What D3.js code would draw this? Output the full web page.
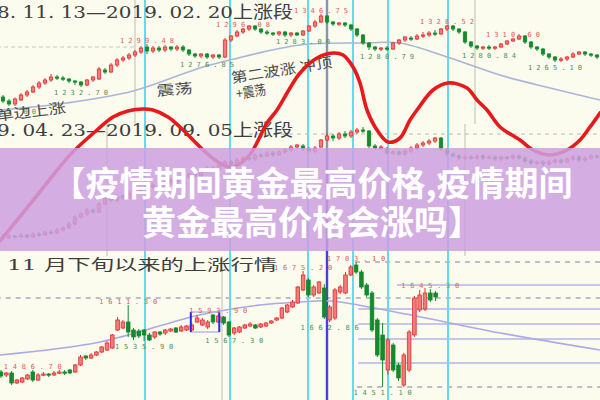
<!DOCTYPE html>
<html><head><meta charset="utf-8">
<script src="https://cdn.jsdelivr.net/npm/d3@7"></script>
<style>html,body{margin:0;padding:0;background:#fbfbee;}svg{display:block;}</style>
</head><body><svg id="c" width="600" height="400"></svg>
<script>
// ---------- DATA ----------
const headers = ["2018. 11. 13\u20142019. 02. 20上涨段", "2019. 04. 23\u20142019. 09. 05上涨段", "11 月下旬以来的上涨行情"];
const titleLines = ["【疫情期间黄金最高价格,疫情期间", "黄金最高价格会涨吗】"];
const notes = ["单边上涨", "震荡", "第二波涨  冲顶", "+震荡"];

// candles: [open, close, high, low]
const topCandles = [
[1176,1168,1180,1164],[1168,1162,1172,1158],[1162,1172,1175,1158],[1170,1180,1184,1168],[1180,1186,1190,1176],
[1186,1196,1200,1184],[1196,1204,1208,1192],[1204,1210,1214,1200],[1210,1216,1222,1206],[1216,1214,1220,1210],
[1214,1212,1218,1208],[1212,1208,1214,1204],[1208,1206,1210,1200],[1206,1200,1208,1196],[1200,1210,1212,1198],
[1210,1216,1218,1206],[1212,1232,1236,1210],[1230,1226,1234,1222],[1226,1240,1244,1224],[1240,1250,1254,1236],
[1250,1254,1258,1246],[1254,1260,1264,1250],[1260,1266,1270,1256],[1266,1274,1278,1262],[1276,1268,1282,1262],
[1268,1274,1278,1264],[1274,1270,1278,1266],[1270,1276,1280,1266],[1276,1272,1278,1268],[1272,1276,1280,1268],
[1276,1270,1280,1266],[1270,1262,1272,1258],[1262,1258,1264,1254],[1258,1262,1264,1254],[1262,1256,1264,1252],
[1256,1260,1262,1252],[1260,1256,1262,1252],[1256,1290,1294,1254],[1290,1298,1300,1286],[1298,1306,1310,1296],
[1306,1312,1314,1302],[1312,1318,1320,1308],[1318,1312,1320,1308],[1312,1306,1314,1302],[1306,1304,1310,1300],
[1304,1302,1306,1298],[1302,1306,1308,1298],[1306,1300,1308,1296],[1300,1304,1306,1296],[1304,1300,1306,1298],
[1300,1308,1310,1298],[1308,1318,1320,1306],[1318,1326,1330,1314],[1326,1338,1342,1324],[1338,1326,1340,1322],
[1326,1322,1328,1318],[1322,1324,1326,1318],[1324,1320,1326,1316],[1320,1312,1322,1308],[1312,1300,1314,1296],
[1300,1284,1302,1280],[1284,1276,1286,1270],[1276,1272,1278,1268],[1272,1274,1276,1268],[1274,1272,1278,1268],
[1272,1284,1286,1270],[1284,1290,1292,1280],[1290,1296,1298,1286],[1294,1292,1298,1288],[1292,1298,1302,1290],
[1298,1300,1306,1294],[1300,1304,1308,1296],[1304,1302,1310,1298],[1302,1312,1314,1300],[1312,1318,1320,1308],
[1318,1312,1320,1308],[1312,1306,1314,1302],[1306,1286,1308,1282],[1286,1278,1288,1274],[1278,1274,1280,1270],
[1274,1276,1278,1270],[1276,1274,1280,1270],[1274,1276,1278,1270],[1276,1282,1284,1274],[1282,1288,1290,1280],
[1288,1292,1294,1286],[1292,1298,1302,1290],[1298,1286,1300,1282],[1286,1276,1288,1272],[1276,1272,1278,1268],
[1272,1262,1274,1258],[1262,1256,1264,1252],[1256,1250,1258,1246],[1250,1252,1256,1246],[1252,1256,1258,1248],
[1256,1262,1266,1254],[1262,1266,1268,1260],[1266,1262,1268,1258],[1262,1260,1264,1256],[1260,1256,1262,1252]
];
const midCandles = [
[1328,1324,1332,1320],[1324,1328,1332,1322],[1328,1326,1330,1322],[1326,1330,1334,1324],[1330,1326,1332,1322],
[1326,1332,1336,1324],[1332,1330,1336,1326],[1330,1336,1338,1328],[1336,1334,1340,1330],[1334,1340,1344,1332],
[1340,1344,1348,1336],[1344,1352,1356,1342],[1352,1366,1370,1350],[1366,1372,1376,1362],[1372,1380,1384,1368],
[1380,1376,1384,1372],[1376,1392,1396,1374],[1392,1406,1410,1390],[1406,1400,1410,1396],[1400,1408,1412,1396],
[1408,1404,1412,1400],[1404,1414,1418,1402],[1414,1420,1424,1410],[1420,1416,1424,1412],[1416,1426,1430,1414],
[1426,1430,1434,1422],[1430,1424,1434,1420],[1424,1434,1438,1422],[1434,1440,1444,1430],[1440,1436,1444,1432],
[1436,1446,1450,1434],[1446,1452,1456,1442],[1452,1448,1456,1444],[1448,1458,1462,1446],[1458,1464,1468,1454],
[1464,1460,1468,1456],[1460,1470,1474,1458],[1470,1476,1480,1466],[1476,1472,1480,1468],[1472,1480,1484,1470],
[1480,1484,1488,1476],[1484,1482,1488,1478],[1482,1490,1494,1478],[1490,1488,1494,1484],[1488,1494,1498,1486],
[1494,1490,1498,1486],[1490,1496,1500,1488],[1496,1500,1504,1492],[1500,1506,1510,1496],[1506,1510,1512,1502],
[1508,1502,1512,1498],[1502,1498,1506,1494],[1498,1504,1508,1494],[1506,1520,1522,1504],[1520,1528,1534,1518],
[1528,1524,1532,1518],[1524,1532,1536,1520],[1532,1528,1538,1524],[1528,1536,1540,1524],[1536,1540,1544,1532],
[1540,1538,1546,1534],[1538,1508,1540,1504],[1508,1504,1512,1500],[1504,1506,1510,1500],[1502,1494,1506,1490],
[1494,1496,1500,1490],[1496,1492,1500,1488],[1492,1498,1502,1488],[1498,1504,1508,1494],[1504,1510,1514,1500],
[1510,1514,1518,1506],[1514,1518,1522,1510],[1518,1524,1526,1514],[1524,1502,1526,1498],[1500,1492,1504,1488],
[1492,1488,1496,1484],[1488,1484,1492,1480],[1484,1486,1490,1480],[1486,1484,1490,1480],[1484,1488,1492,1480],
[1488,1484,1492,1480],[1484,1486,1490,1482],[1486,1482,1490,1478],[1482,1486,1490,1478],[1486,1484,1488,1480],
[1484,1488,1492,1480],[1488,1484,1492,1480],[1484,1478,1488,1474],[1478,1474,1482,1470],[1474,1476,1480,1470],
[1476,1472,1480,1468],[1472,1476,1480,1468],[1476,1480,1484,1472],[1480,1476,1484,1472],[1476,1482,1486,1474],
[1482,1486,1490,1478],[1486,1480,1490,1476],[1480,1484,1488,1476],[1484,1488,1492,1480],[1488,1486,1492,1482]
];
const botCandles = [
[1484,1476,1488,1472],[1478,1482,1484,1474],[1482,1462,1486,1458],[1462,1468,1470,1460],[1464,1472,1474,1462],
[1470,1478,1480,1468],[1484,1468,1488,1464],[1468,1478,1482,1466],[1478,1480,1484,1476],[1480,1478,1482,1474],
[1478,1482,1486,1476],[1482,1484,1488,1480],[1484,1482,1488,1478],[1488,1482,1490,1480],[1484,1498,1500,1482],
[1498,1514,1518,1496],[1516,1512,1518,1508],[1512,1518,1522,1510],[1518,1524,1526,1516],[1524,1534,1536,1522],
[1528,1542,1546,1526],[1532,1558,1560,1530],[1568,1588,1594,1566],[1572,1584,1588,1570],[1584,1564,1618,1554],
[1568,1554,1572,1548],[1566,1556,1570,1552],[1568,1558,1570,1546],[1558,1548,1562,1546],[1554,1564,1566,1550],
[1564,1560,1566,1556],[1562,1568,1570,1558],[1566,1570,1572,1564],[1572,1564,1574,1562],[1566,1574,1578,1564],
[1568,1576,1578,1566],[1568,1578,1582,1566],[1584,1592,1598,1582],[1578,1588,1592,1576],[1574,1584,1588,1570],
[1598,1584,1600,1580],[1584,1596,1600,1582],[1594,1582,1596,1578],[1584,1558,1586,1554],[1562,1572,1574,1558],
[1564,1574,1576,1562],[1572,1578,1580,1570],[1576,1580,1584,1574],[1578,1572,1580,1570],[1574,1580,1582,1572],
[1576,1582,1584,1574],[1582,1586,1588,1580],[1588,1592,1594,1586],[1592,1612,1614,1590],[1604,1618,1620,1602],
[1614,1624,1628,1612],[1622,1654,1656,1620],[1648,1678,1686,1646],[1668,1638,1672,1634],[1638,1654,1658,1634],
[1642,1664,1666,1640],[1652,1594,1660,1590],[1588,1614,1618,1584],[1592,1648,1652,1588],[1644,1654,1658,1640],
[1642,1678,1684,1640],[1678,1694,1698,1676],[1698,1684,1704,1680],[1684,1654,1688,1650],[1658,1638,1662,1634],
[1642,1568,1646,1564],[1588,1518,1592,1514],[1558,1508,1582,1454],[1488,1548,1552,1478],[1538,1488,1542,1484],
[1498,1472,1502,1466],[1458,1518,1522,1454],[1488,1564,1568,1484],[1558,1632,1636,1554],[1608,1638,1648,1604],
[1610,1642,1652,1606],[1642,1628,1650,1624],[1642,1634,1646,1626]
];

// price labels: [candle index, text, side]
const topLabels = [[1,"1191.00","below"],[13,"1232.70","below"],[24,"1299.48","above"],[34,"1276.85","below"],
  [40,"1296.08","above"],[50,"1283.00","below"],[53,"1346.75","above"],[64,"1280.79","below"],
  [74,"1328.52","above"],[81,"1280.84","below"],[85,"1310.60","above"],[92,"1265.10","below"]];
const botLabels = [[6,"1486.70","above"],[24,"1611.30","above"],[27,"1535.90","below"],[41,"1593.90","above"],
  [44,"1567.30","below"],[57,"1675.20","above"],[62,"1662.86","below"],[67,"1703.10","above"],
  [72,"1451.10","below"],[81,"1645.30","above"]];

// moving averages (candle index, price)
const topMAIdx = [-0.5,10.7,21.7,32.8,37.8,49.5,60.7,66.2,74.5,82.8,91.2,99.5];
const topMAVal = [1150,1164,1188,1234,1250,1280,1284,1284,1254,1220,1194,1170];
const botMAIdx = [-0.2,18.7,37.5,48.9,56.4,62.1,75.3,94.2,113];
const botMAVal = [1518,1544,1598,1618,1624,1626,1602,1562,1528];

// cycle wave (day, strength)
const waveDay = [0,17.5,35,48.5,56.5,64,71.5,76.5,84,90,100,107.5,115,124,133.5,138.5,145,150,158.5,166.5,171.5,
  176.5,180,183.5,188.5,194,200,205,208.5,216.5,224,233.5,238.5,243.5,250,260,266.5,275,283.5,290,295,300];
const waveVal = [-91,-48,-5,20,33,39,41,40,33,23,3,-10,-17,-7,27,40,62,77,92,97,95,83,67,40,20,8,12,30,40,60,67,62,
  50,40,23,10,0,-5,0,10,23,37];

// marker days (vertical lines)
const cyanDays = [72.5,115,154,176.5,194,224];
const pivotDay = 163.5;
const greyDaysTop = [67.5,237.5], greyDaysMid = [53.5,232.5], greyDaysBot = [111];

// horizontal levels: [price, from candle index]
const topDashed = [[1276,-1,22]];
const midDashed = [[1532,41]];
const botDashed = [[1704,66.8],[1632,-1],[1454,67.2]];
const botSolid = [[1658,74.7],[1610,67.4],[1580,67.4],[1550,67.4],[1502,67.4]];
const botBox = [36,41,1564,1604];

// ---------- DRAW ----------
const W = 600, H = 400;
const svg = d3.select("#c");
svg.append("rect").attr("width",W).attr("height",H).attr("fill","#fbfbee");

const day = d3.scaleLinear().domain([0,300]).range([0,600]);
const xTop = d3.scaleLinear().domain([0,99]).range([3,597]);
const yTop = d3.scaleLinear().domain([1150,1350]).range([110,10]);
const xMid = d3.scaleLinear().domain([0,99]).range([3,597]);
const yMid = d3.scaleLinear().domain([1300,1600]).range([250,100]);
const xBot = d3.scaleLinear().domain([0,82]).range([1,435.6]);
const yBot = d3.scaleLinear().domain([1440,1720]).range([394,254]);
const waveY = d3.scaleLinear().domain([-100,100]).range([250,50]);

const gLines = svg.append("g");
const vline = (g, d, y0, y1, col, w) => g.append("line").attr("x1",day(d)).attr("x2",day(d)).attr("y1",y0).attr("y2",y1).attr("stroke",col).attr("stroke-width",w);
greyDaysTop.forEach(d => vline(gLines,d,0,124,"#c9c9c0",1.2));
greyDaysMid.forEach(d => vline(gLines,d,124,256,"#c9c9c0",1.2));
greyDaysBot.forEach(d => vline(gLines,d,256,400,"#c9c9c0",1.2));

topDashed.forEach(([p,a,b]) => gLines.append("line").attr("x1",xTop(a)).attr("x2",xTop(b)).attr("y1",yTop(p)).attr("y2",yTop(p))
  .attr("stroke","#c8c8c8").attr("stroke-width",1).attr("stroke-dasharray","4,3"));
midDashed.forEach(([p,a]) => gLines.append("line").attr("x1",xMid(a)).attr("x2",W).attr("y1",yMid(p)).attr("y2",yMid(p))
  .attr("stroke","#b8b8c8").attr("stroke-width",1).attr("stroke-dasharray","4,4"));
botDashed.forEach(([p,a]) => gLines.append("line").attr("x1",xBot(a)).attr("x2",W).attr("y1",yBot(p)).attr("y2",yBot(p))
  .attr("stroke","#a9a9c4").attr("stroke-width",1.3).attr("stroke-dasharray","5,5"));
botSolid.forEach(([p,a]) => gLines.append("line").attr("x1",xBot(a)).attr("x2",W).attr("y1",yBot(p)).attr("y2",yBot(p))
  .attr("stroke","#b4b4ea").attr("stroke-width",1.6));

cyanDays.forEach(d => vline(gLines,d,0,H,"#5fdcef",2));
vline(gLines,pivotDay,0,148,"#8696b2",2.4);
vline(gLines,pivotDay,148,H,"#4343d6",2.4);

const maLine = (xs, ys, x, y, col, w) => svg.append("path")
  .datum(xs.map((v,i)=>[v,ys[i]]))
  .attr("d", d3.line().x(d=>x(d[0])).y(d=>y(d[1])).curve(d3.curveCatmullRom))
  .attr("fill","none").attr("stroke",col).attr("stroke-width",w);
maLine(topMAIdx, topMAVal, xTop, yTop, "#a9b6d6", 1.6);
maLine(botMAIdx, botMAVal, xBot, yBot, "#aaaae6", 1.6);

function candles(data, x, y, bw) {
  const g = svg.append("g");
  data.forEach((d,i) => {
    const up = d[1] >= d[0];
    const col = up ? "#e23030" : "#138a2c";
    g.append("line").attr("x1",x(i)).attr("x2",x(i)).attr("y1",y(d[2])).attr("y2",y(d[3]))
      .attr("stroke",col).attr("stroke-width",1);
    const top = y(Math.max(d[0],d[1])), bot = y(Math.min(d[0],d[1]));
    g.append("rect").attr("x",x(i)-bw/2).attr("y",top).attr("width",bw).attr("height",Math.max(1.2,bot-top))
      .attr("fill", up ? "#f27a7a" : "#138a2c").attr("stroke",col).attr("stroke-width",0.8);
  });
}
candles(topCandles, xTop, yTop, 3.4);
candles(midCandles, xMid, yMid, 3.4);
candles(botCandles, xBot, yBot, 3.6);

(() => {
  const [a,b,lo,hi] = botBox;
  const x0 = xBot(a)-1, x1 = xBot(b)+1;
  svg.append("rect").attr("x",x0).attr("y",yBot(hi)).attr("width",x1-x0).attr("height",yBot(lo)-yBot(hi))
    .attr("fill","none").attr("stroke","#a8a8ee").attr("stroke-width",1.2);
  [x0,x1].forEach(xx => svg.append("line").attr("x1",xx).attr("x2",xx).attr("y1",yBot(hi)).attr("y2",yBot(lo))
    .attr("stroke","#2a2ae0").attr("stroke-width",2));
})();

function labels(list, data, x, y, len) {
  list.forEach(([i,t,side]) => {
    const d = data[i];
    const yy = side === "above" ? y(d[2]) - 1.5 : y(d[3]) + 8;
    svg.append("text").attr("x",x(i)).attr("y",yy).attr("text-anchor","middle")
      .attr("font-family","'DejaVu Sans Mono', monospace").attr("font-size",7)
      .attr("textLength",len).attr("fill", side === "above" ? "#e05c5c" : "#4a8f58").text(t);
  });
}
labels(topLabels, topCandles, xTop, yTop, 54);
labels(botLabels, botCandles, xBot, yBot, 58);

const hdrFont = "'DejaVu Serif', 'Noto Sans CJK SC', serif";
[[headers[0],-41,18,17,334],[headers[1],-41,136,17,334],[headers[2],7,270,15,270]].forEach(([t,x,y,fs,len]) =>
  svg.append("text").attr("x",x).attr("y",y).attr("font-family",hdrFont).attr("font-size",fs)
    .attr("textLength",len).attr("lengthAdjust","spacingAndGlyphs").attr("fill","#3e3e3e").text(t));

[[notes[0],-3,121,-7,70],[notes[1],157,96,-5,36],[notes[2],232,83,-9,102],[notes[3],237,99,-9,30]].forEach(([t,x,y,r,len]) =>
  svg.append("text").attr("x",x).attr("y",y).attr("transform",`rotate(${r},${x},${y})`)
    .attr("font-family","'Noto Sans CJK SC', sans-serif").attr("font-size",14)
    .attr("textLength",len).attr("lengthAdjust","spacingAndGlyphs").attr("fill","#4a4a4a").text(t));

svg.append("path").datum(waveDay.map((d,i)=>[d,waveVal[i]]))
  .attr("d", d3.line().x(d=>day(d[0])).y(d=>waveY(d[1])).curve(d3.curveCatmullRom.alpha(0.5)))
  .attr("fill","none").attr("stroke","#e8191b").attr("stroke-width",3.6).attr("stroke-linecap","round");

svg.append("rect").attr("x",0).attr("y",148).attr("width",W).attr("height",103)
  .attr("fill","rgb(205,160,225)").attr("opacity",0.86);
titleLines.forEach((t,i) => svg.append("text").attr("x",312).attr("y",196 + i*39).attr("text-anchor","middle")
  .attr("font-family","'Noto Sans CJK SC', sans-serif").attr("font-weight",700).attr("font-size",34)
  .attr("fill","#ffffff").text(t));
</script></body></html>
